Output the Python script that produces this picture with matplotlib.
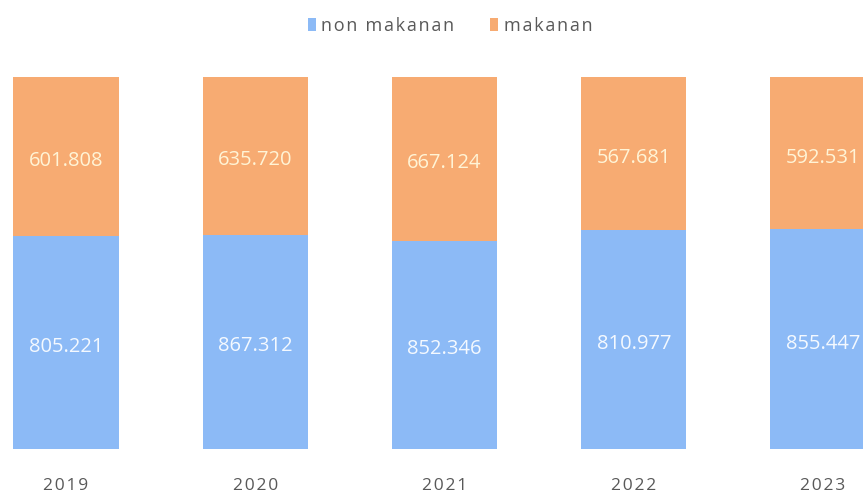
import numpy as np
import matplotlib
matplotlib.use("Agg")
import matplotlib.pyplot as plt
from matplotlib.patches import Patch

years = ["2019", "2020", "2021", "2022", "2023"]
non_makanan = [805221, 867312, 852346, 810977, 855447]
makanan = [601808, 635720, 667124, 567681, 592531]
non_makanan_labels = ["805.221", "867.312", "852.346", "810.977", "855.447"]
makanan_labels = ["601.808", "635.720", "667.124", "567.681", "592.531"]
series_names = ["non makanan", "makanan"]

BLUE = "#8cbaf6"
ORANGE = "#f7ab72"
GREY = "#595959"
HAIR = "\u200a"

plt.rcParams["font.family"] = ["Open Sans", "DejaVu Sans"]


def spaced(s):
    # loose letter spacing like the original
    return HAIR.join(s)


# 100% stacked shares
non = np.array(non_makanan, dtype=float)
mak = np.array(makanan, dtype=float)
total = non + mak
non_share = non / total
mak_share = mak / total

x = np.arange(len(years))

fig = plt.figure(figsize=(8.63, 4.96), dpi=100)
ax = fig.add_axes([0, 0.0938, 1, 0.751])

ax.bar(x, non_share, width=0.555, color=BLUE, edgecolor="none")
ax.bar(x, mak_share, width=0.555, bottom=non_share, color=ORANGE, edgecolor="none")

for i in range(len(years)):
    ax.text(x[i], non_share[i] / 2 - 0.012, non_makanan_labels[i], ha="center", va="center",
            fontsize=14.5, color="#f4f9ff")
    ax.text(x[i], non_share[i] + mak_share[i] / 2 - 0.012, makanan_labels[i], ha="center",
            va="center", fontsize=14.5, color="#fff4d6")
    ax.text(x[i], -0.098, spaced(years[i]), ha="center", va="center",
            fontsize=12.5, color=GREY)

ax.set_xlim(-66 / 189.25, (863 - 66) / 189.25)
ax.set_ylim(0, 1)
ax.axis("off")

handles = [Patch(facecolor=BLUE, edgecolor="none"), Patch(facecolor=ORANGE, edgecolor="none")]
fig.legend(handles, [spaced(n) for n in series_names], loc="center",
           bbox_to_anchor=(450 / 863, 1 - 26 / 496), ncol=2, frameon=False,
           fontsize=13, labelcolor=GREY, handlelength=0.45, handleheight=0.75,
           handletextpad=0.3, columnspacing=2.0)

fig.savefig("out.png", dpi=100, facecolor="white")
